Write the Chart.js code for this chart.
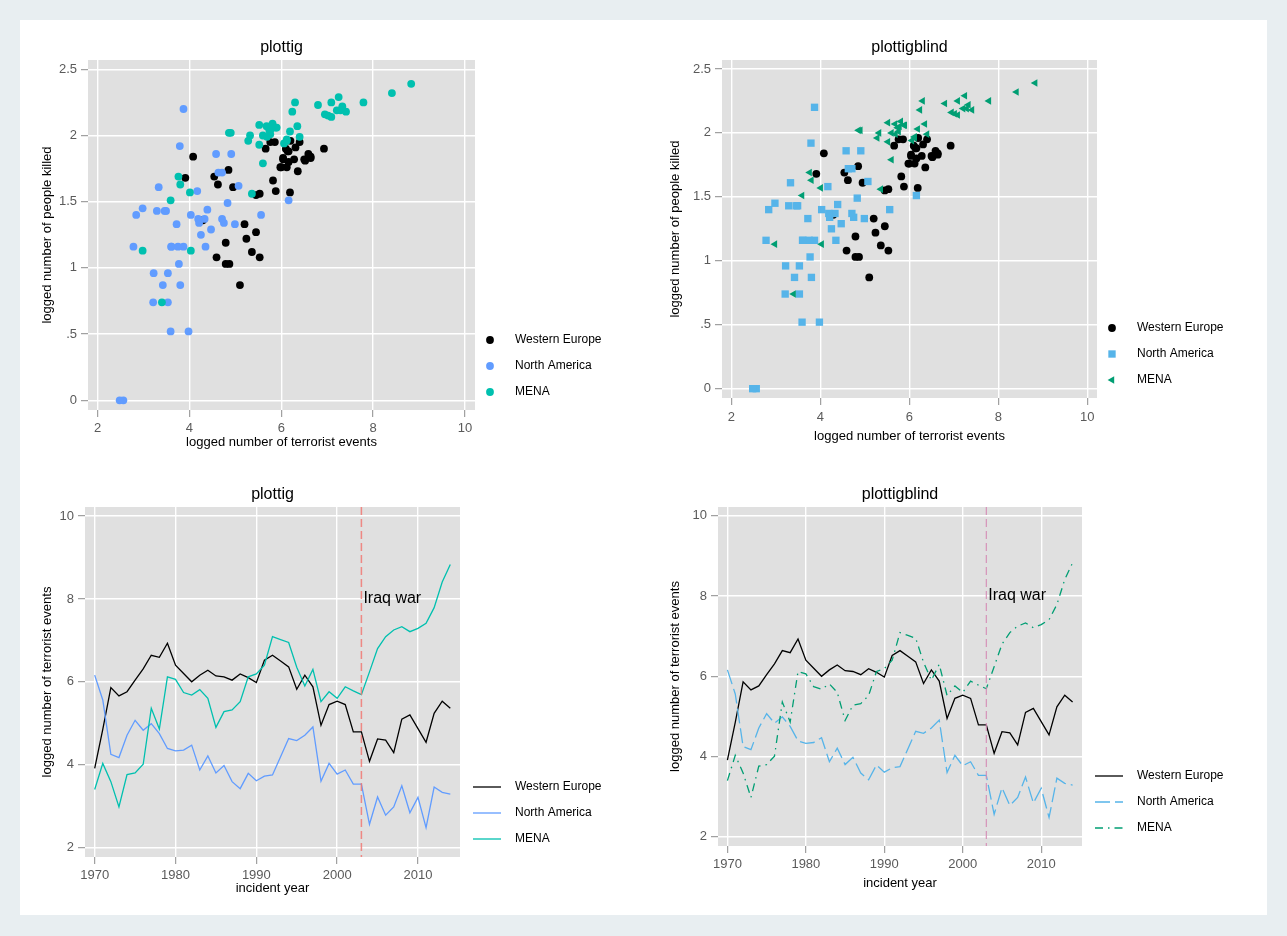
<!DOCTYPE html>
<html>
<head>
<meta charset="utf-8">
<title>plottig vs plottigblind</title>
<style>
  body { margin: 0; background: #e8eef1; font-family: "Liberation Sans", Arial, sans-serif; }
  #sheet { position: absolute; left: 20px; top: 20px; width: 1247px; height: 895px; background: #ffffff; }
  canvas { position: absolute; }
</style>
</head>
<body>
<div id="sheet"></div>
<canvas id="scatterTig"></canvas>
<canvas id="scatterBlind"></canvas>
<canvas id="lineTig"></canvas>
<canvas id="lineBlind"></canvas>

<script src="https://cdn.jsdelivr.net/npm/chart.js"></script>
<script>
// ---- data ----
const years = [1970, 1971, 1972, 1973, 1974, 1975, 1976, 1977, 1978, 1979,
               1980, 1981, 1982, 1983, 1984, 1985, 1986, 1987, 1988, 1989,
               1990, 1991, 1992, 1993, 1994, 1995, 1996, 1997, 1998, 1999,
               2000, 2001, 2002, 2003, 2004, 2005, 2006, 2007, 2008, 2009,
               2010, 2011, 2012, 2013, 2014];
const seriesNames = ['Western Europe', 'North America', 'MENA'];

// logged number of terrorist events, per year
const eventsWE = [3.91, 4.85, 5.86, 5.66, 5.76, 6.04, 6.31, 6.64, 6.59, 6.93,
                  6.40, 6.20, 6.00, 6.16, 6.28, 6.14, 6.12, 6.04, 6.19, 6.10,
                  5.98, 6.52, 6.64, 6.50, 6.36, 5.82, 6.16, 5.88, 4.95, 5.45,
                  5.53, 5.45, 4.79, 4.79, 4.08, 4.62, 4.59, 4.29, 5.10, 5.20,
                  4.87, 4.54, 5.24, 5.53, 5.36];
const eventsNA = [6.16, 5.56, 4.25, 4.17, 4.71, 5.07, 4.83, 4.99, 4.75, 4.39,
                  4.33, 4.35, 4.47, 3.87, 4.21, 3.80, 3.98, 3.59, 3.42, 3.79,
                  3.61, 3.72, 3.75, 4.19, 4.63, 4.58, 4.71, 4.91, 3.60, 4.03,
                  3.77, 3.87, 3.53, 3.53, 2.56, 3.22, 2.78, 2.98, 3.49, 2.84,
                  3.21, 2.48, 3.46, 3.33, 3.29];
const eventsMENA = [3.40, 4.03, 3.59, 2.98, 3.76, 3.80, 4.01, 5.36, 4.86, 6.12,
                    6.06, 5.74, 5.68, 5.81, 5.60, 4.90, 5.28, 5.32, 5.52, 6.12,
                    6.19, 6.40, 7.09, 7.02, 6.95, 6.35, 5.90, 6.30, 5.52, 5.76,
                    5.60, 5.88, 5.78, 5.69, 6.24, 6.80, 7.09, 7.25, 7.33, 7.21,
                    7.29, 7.41, 7.79, 8.41, 8.83];

// logged number of people killed, per year
const killedWE = [1.68, 1.74, 1.95, 1.90, 1.95, 1.82, 1.91, 1.83, 1.86, 1.90,
                  1.95, 1.96, 1.76, 1.80, 1.82, 1.88, 1.76, 1.83, 1.57, 1.90,
                  1.76, 1.81, 1.84, 1.82, 1.73, 1.66, 1.88, 1.58, 1.61, 1.27,
                  1.08, 1.55, 1.19, 1.03, 1.84, 1.63, 1.08, 1.36, 0.87, 1.33,
                  1.03, 1.69, 1.22, 1.56, 1.12];
const killedNA = [1.51, 1.40, 1.25, 1.58, 1.72, 1.62, 1.49, 1.33, 1.34, 1.44,
                  1.37, 1.16, 1.29, 1.16, 1.34, 0.87, 0.52, 0.52, 0.87, 1.92,
                  1.16, 1.33, 1.16, 1.37, 1.72, 1.86, 1.37, 1.86, 1.16, 1.40,
                  1.03, 2.20, 0.96, 0.74, 0.00, 0.96, 1.16, 1.45, 1.43, 1.40,
                  0.74, 0.00, 1.43, 1.61, 1.43];
const killedMENA = [0.74, 1.13, 1.51, 1.13, 1.69, 1.63, 1.57, 1.56, 2.02, 1.96,
                    1.94, 2.04, 2.07, 2.09, 2.00, 2.02, 1.96, 2.00, 2.08, 1.97,
                    2.03, 1.99, 2.25, 2.15, 2.16, 2.07, 2.06, 2.25, 1.93, 2.01,
                    1.79, 2.06, 2.05, 1.99, 2.18, 2.23, 2.14, 2.29, 2.22, 2.19,
                    2.19, 2.18, 2.25, 2.32, 2.39];

const eventTicks = [2, 4, 6, 8, 10];
const killedTicks = [0, 0.5, 1, 1.5, 2, 2.5];
const yearTicks = [1970, 1980, 1990, 2000, 2010];
const iraqYear = 2003;
const iraqLabel = 'Iraq war';
const iraqLabelAt = 8;

const eventsBy = [eventsWE, eventsNA, eventsMENA];
const killedBy = [killedWE, killedNA, killedMENA];

// ---- schemes ----
const plottig = {
  colors: ['#000000', '#619cff', '#00c0af'],
  markers: ['circle', 'circle', 'circle'],
  radii: [3.9, 3.9, 3.9],
  rotations: [0, 0, 0],
  dashes: [[], [], []],
  refColor: 'rgba(240,120,115,0.85)',
  refWidth: 1.5
};
const plottigblind = {
  colors: ['#000000', '#56b4e9', '#009e73'],
  markers: ['circle', 'rect', 'triangle'],
  radii: [3.9, 5.2, 4.4],
  rotations: [0, 0, -90],
  dashes: [[], [15, 5], [8, 5, 1.5, 5]],
  refColor: '#d58bb5',
  refWidth: 1.1
};

Chart.defaults.font.family = '"Liberation Sans", Arial, sans-serif';

const FONT = '"Liberation Sans", Arial, sans-serif';
const TICK_LEN = 7;

function drawMarker(ctx, style, r, x, y) {
  ctx.beginPath();
  if (style === 'rect') {
    const h = r * Math.SQRT1_2;
    ctx.rect(x - h, y - h, 2 * h, 2 * h);
  } else if (style === 'triangle') {
    ctx.moveTo(x - r, y);
    ctx.lineTo(x + r / 2, y - r * 0.866);
    ctx.lineTo(x + r / 2, y + r * 0.866);
    ctx.closePath();
  } else {
    ctx.arc(x, y, r, 0, Math.PI * 2);
  }
  ctx.fill();
}

const stataLook = {
  id: 'stataLook',
  beforeDraw(chart) {
    const { ctx, chartArea: a } = chart;
    ctx.save();
    ctx.fillStyle = '#e0e0e0';
    ctx.fillRect(a.left, a.top, a.right - a.left, a.bottom - a.top);
    ctx.restore();
  },
  afterDatasetsDraw(chart, args, o) {
    if (o.refX == null) return;
    const { ctx, chartArea: a, scales } = chart;
    const x = scales.x.getPixelForValue(o.refX);
    ctx.save();
    ctx.strokeStyle = o.refColor;
    ctx.lineWidth = o.refWidth;
    ctx.setLineDash([8, 4]);
    ctx.beginPath();
    ctx.moveTo(x, a.top);
    ctx.lineTo(x, a.bottom);
    ctx.stroke();
    ctx.setLineDash([]);
    ctx.fillStyle = '#000';
    ctx.font = '16px ' + FONT;
    ctx.textAlign = 'left';
    ctx.textBaseline = 'middle';
    ctx.fillText(o.refLabel, x + 2, scales.y.getPixelForValue(o.refLabelY));
    ctx.restore();
  },
  afterDraw(chart, args, o) {
    const { ctx, chartArea: a } = chart;
    ctx.save();
    ctx.fillStyle = '#000';
    ctx.font = '16px ' + FONT;
    ctx.textAlign = 'center';
    ctx.textBaseline = 'middle';
    ctx.fillText(o.title, (a.left + a.right) / 2, a.top - o.titleGap);

    // legend, bottom right of the plot region
    ctx.font = '12px ' + FONT;
    ctx.textAlign = 'left';
    chart.data.datasets.forEach((ds, i) => {
      const y = a.bottom - 70 + 26 * i;
      if (o.kind === 'scatter') {
        ctx.fillStyle = ds.backgroundColor;
        drawMarker(ctx, ds.pointStyle, ds.pointRadius, a.right + 15, y);
      } else {
        ctx.strokeStyle = ds.borderColor;
        ctx.lineWidth = ds.borderWidth;
        ctx.setLineDash(ds.borderDash || []);
        ctx.beginPath();
        ctx.moveTo(a.right + 13, y);
        ctx.lineTo(a.right + 41, y);
        ctx.stroke();
        ctx.setLineDash([]);
      }
      ctx.fillStyle = '#000';
      ctx.fillText(ds.label, a.right + (o.kind === 'scatter' ? 40 : 55), y);
    });
    ctx.restore();
  }
};

function axis(range, ticks, fmt, titleText, titlePad, tickPad, fitFn) {
  return {
    type: 'linear',
    min: range[0],
    max: range[1],
    afterBuildTicks: s => { s.ticks = ticks.map(v => ({ value: v })); },
    afterFit: fitFn,
    border: { display: false },
    grid: { color: '#ffffff', lineWidth: 1.4, drawTicks: true, tickLength: TICK_LEN, tickColor: '#8c8c8c', tickWidth: 1 },
    ticks: { autoSkip: false, maxRotation: 0, padding: tickPad, color: '#5a5a5a', font: { size: 13 }, callback: v => fmt(v) },
    title: { display: true, text: titleText, color: '#000', font: { size: 13 }, padding: titlePad }
  };
}

function panel(p) {
  const canvas = document.getElementById(p.id);
  const c = p.canvas, a = p.area;
  canvas.style.left = c.left + 'px';
  canvas.style.top = c.top + 'px';
  canvas.width = c.width;
  canvas.height = c.height;
  const lh = 13 * 1.2;
  const xBox = c.top + c.height - a.b;
  const yBox = a.l - c.left;

  const s = p.scheme;
  let datasets;
  if (p.kind === 'scatter') {
    datasets = seriesNames.map((name, i) => ({
      label: name,
      data: eventsBy[i].map((x, j) => ({ x: x, y: killedBy[i][j] })),
      backgroundColor: s.colors[i],
      pointStyle: s.markers[i],
      pointRadius: s.radii[i],
      pointRotation: s.rotations[i],
      borderWidth: 0,
      order: 3 - i
    }));
  } else {
    datasets = seriesNames.map((name, i) => ({
      label: name,
      data: years.map((yr, j) => ({ x: yr, y: eventsBy[i][j] })),
      borderColor: s.colors[i],
      borderWidth: 1.3,
      borderDash: s.dashes[i],
      pointRadius: 0,
      fill: false,
      tension: 0,
      order: 3 - i
    }));
  }

  const xs = p.kind === 'scatter'
    ? axis([1.79, 10.22], eventTicks, v => String(v), 'logged number of terrorist events',
           { top: 0, bottom: c.top + c.height - p.xTitleY - lh / 2 }, p.xTickY - a.b - TICK_LEN - lh / 2,
           sc => { sc.height = xBox; })
    : axis([1968.8, 2015.2], yearTicks, v => String(v), 'incident year',
           { top: 0, bottom: c.top + c.height - p.xTitleY - lh / 2 }, p.xTickY - a.b - TICK_LEN - lh / 2,
           sc => { sc.height = xBox; });
  const ys = p.kind === 'scatter'
    ? axis([-0.073, 2.57], killedTicks, v => String(v).replace(/^0\./, '.'), 'logged number of people killed',
           { top: p.yTitleX - c.left - lh / 2, bottom: 0 }, 4, sc => { sc.width = yBox; })
    : axis([1.77, 10.22], eventTicks, v => String(v), 'logged number of terrorist events',
           { top: p.yTitleX - c.left - lh / 2, bottom: 0 }, 4, sc => { sc.width = yBox; });

  const look = { title: p.title, titleGap: a.t - p.titleY, kind: p.kind };
  if (p.kind === 'line') {
    look.refX = iraqYear;
    look.refLabel = iraqLabel;
    look.refLabelY = iraqLabelAt;
    look.refColor = s.refColor;
    look.refWidth = s.refWidth;
  }

  new Chart(canvas, {
    type: p.kind === 'scatter' ? 'scatter' : 'line',
    data: { datasets: datasets },
    options: {
      responsive: false,
      animation: false,
      events: [],
      layout: { padding: { left: 0, top: a.t - c.top, right: c.left + c.width - a.r, bottom: 0 } },
      plugins: {
        legend: { display: false },
        tooltip: { enabled: false },
        stataLook: look
      },
      scales: { x: xs, y: ys }
    },
    plugins: [stataLook]
  });
}

panel({ id: 'scatterTig', kind: 'scatter', scheme: plottig, title: 'plottig',
        canvas: { left: 20, top: 20, width: 630, height: 440 },
        area: { l: 88, t: 60, r: 475, b: 410 },
        titleY: 48, xTickY: 428, xTitleY: 442, yTitleX: 47 });
panel({ id: 'scatterBlind', kind: 'scatter', scheme: plottigblind, title: 'plottigblind',
        canvas: { left: 655, top: 20, width: 605, height: 440 },
        area: { l: 722, t: 60, r: 1097, b: 398 },
        titleY: 48, xTickY: 417, xTitleY: 436, yTitleX: 675 });
panel({ id: 'lineTig', kind: 'line', scheme: plottig, title: 'plottig',
        canvas: { left: 20, top: 470, width: 630, height: 440 },
        area: { l: 85, t: 507, r: 460, b: 857 },
        titleY: 495, xTickY: 875, xTitleY: 888, yTitleX: 47 });
panel({ id: 'lineBlind', kind: 'line', scheme: plottigblind, title: 'plottigblind',
        canvas: { left: 655, top: 470, width: 605, height: 440 },
        area: { l: 718, t: 507, r: 1082, b: 846 },
        titleY: 495, xTickY: 864, xTitleY: 883, yTitleX: 675 });
</script>
</body>
</html>
